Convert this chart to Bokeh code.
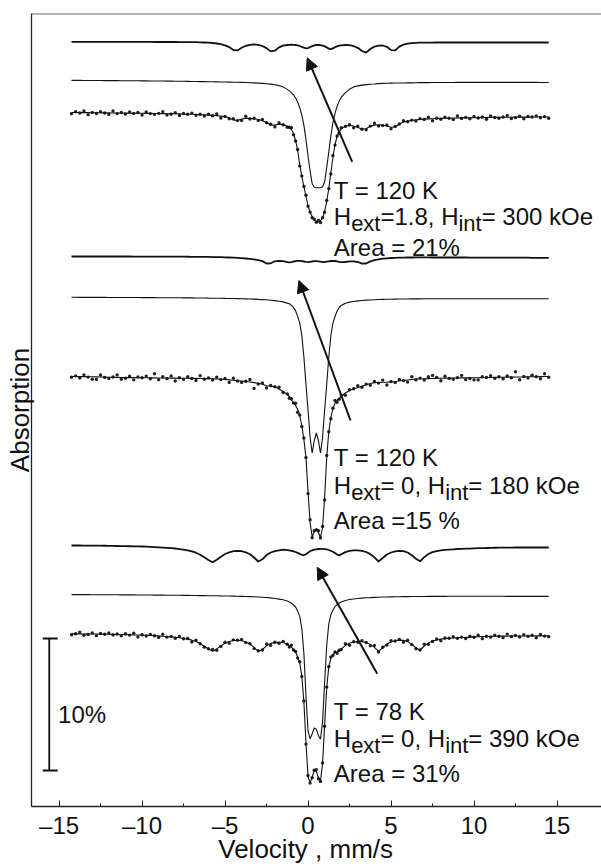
import math
from bokeh.plotting import figure
from bokeh.models import (Range1d, FixedTicker, Label, Arrow, NormalHead, Span,
                          CustomJSTickFormatter)
from bokeh.embed import file_html
from bokeh.resources import INLINE

# ---------------- data (velocity in mm/s; absorption depth in arbitrary units, 132 units = 10 %) ----
VEL = [
    -14.25, -14.0, -13.75, -13.5, -13.25, -13.0, -12.75, -12.5, -12.25, -12.0,
    -11.75, -11.5, -11.25, -11.0, -10.75, -10.5, -10.25, -10.0, -9.75, -9.5,
    -9.25, -9.0, -8.75, -8.5, -8.25, -8.0, -7.75, -7.5, -7.25, -7.0,
    -6.75, -6.5, -6.25, -6.0, -5.75, -5.5, -5.25, -5.0, -4.75, -4.5,
    -4.25, -4.0, -3.75, -3.5, -3.25, -3.0, -2.75, -2.5, -2.25, -2.0,
    -1.75, -1.5, -1.25,
    -1.125, -1.0, -0.875, -0.75, -0.625, -0.5, -0.375, -0.25, -0.125, 0.0,
    0.125, 0.25, 0.375, 0.5, 0.625, 0.75, 0.875, 1.0, 1.125, 1.25,
    1.375, 1.5, 1.625, 1.75, 1.875,
    2.0, 2.25, 2.5, 2.75, 3.0, 3.25, 3.5, 3.75, 4.0, 4.25,
    4.5, 4.75, 5.0, 5.25, 5.5, 5.75, 6.0, 6.25, 6.5, 6.75,
    7.0, 7.25, 7.5, 7.75, 8.0, 8.25, 8.5, 8.75, 9.0, 9.25,
    9.5, 9.75, 10.0, 10.25, 10.5, 10.75, 11.0, 11.25, 11.5, 11.75,
    12.0, 12.25, 12.5, 12.75, 13.0, 13.25, 13.5, 13.75, 14.0, 14.25,
    14.5,
]

# Spectrum 1: T = 120 K, Hext = 1.8
P1_SEXTET = [
    0, 0, 0, 0, 0, 0, 0, 0, 0, 0,
    0, 0, 0.1, 0.1, 0.1, 0.1, 0.1, 0.1, 0.1, 0.1,
    0.2, 0.2, 0.2, 0.2, 0.2, 0.2, 0.3, 0.3, 0.3, 0.3,
    0.4, 0.5, 0.7, 0.9, 1.2, 1.7, 2.4, 3.5, 5.3, 8.2,
    8.6, 6.0, 4.0, 3.0, 2.6, 3.0, 4.2, 6.3, 9.6, 8.9,
    5.6, 3.9, 3.2,
    3.0, 2.9, 3.0, 3.2, 3.6, 4.2, 5.0, 5.9, 6.6, 6.3,
    5.2, 4.3, 3.6, 3.2, 3.1, 3.3, 3.8, 4.6, 5.6, 6.8,
    7.4, 6.6, 5.4, 4.5, 3.9,
    3.5, 3.2, 3.4, 4.3, 6.0, 9.2, 10.8, 7.2, 4.8, 3.8,
    3.7, 5.0, 8.3, 8.6, 4.8, 2.8, 1.8, 1.3, 1.1, 0.9,
    0.8, 0.8, 0.8, 0.7, 0.7, 0.7, 0.7, 0.7, 0.7, 0.7,
    0.7, 0.7, 0.7, 0.7, 0.7, 0.7, 0.7, 0.7, 0.7, 0.7,
    0.7, 0.7, 0.7, 0.7, 0.7, 0.7, 0.7, 0.7, 0.7, 0.7,
    0.7,
]
P1_DOUBLET = [
    0.2, 0.2, 0.2, 0.25, 0.3, 0.3, 0.35, 0.35, 0.4, 0.4,
    0.45, 0.45, 0.5, 0.55, 0.55, 0.6, 0.6, 0.65, 0.7, 0.75,
    0.75, 0.8, 0.85, 0.9, 0.9, 1.0, 1.05, 1.1, 1.15, 1.25,
    1.3, 1.4, 1.45, 1.5, 1.6, 1.65, 1.75, 1.85, 1.95, 2.05,
    2.1, 2.2, 2.35, 2.5, 2.7, 2.9, 3.2, 3.5, 3.95, 4.55,
    5.4, 6.7, 9.2,
    10.7, 12.7, 14.8, 17.6, 21.8, 27.5, 35.0, 45.0, 59.5, 75.8,
    90.8, 103.5, 107.0, 107.6, 107.6, 107.5, 106.6, 101.6, 87.3, 71.9,
    55.7, 42.1, 33.1, 26.1, 20.9,
    17.2, 12.5, 9.0, 6.7, 5.7, 4.9, 4.4, 4.05, 3.8, 3.45,
    3.2, 3.05, 2.95, 2.85, 2.8, 2.75, 2.7, 2.65, 2.5, 2.45,
    2.4, 2.4, 2.35, 2.35, 2.3, 2.25, 2.25, 2.25, 2.2, 2.2,
    2.15, 2.15, 2.15, 2.15, 2.15, 2.15, 2.15, 2.15, 2.15, 2.15,
    2.2, 2.2, 2.2, 2.2, 2.2, 2.2, 2.2, 2.2, 2.25, 2.25,
    2.25,
]
P1_FIT = [
    0, 0.05, 0.1, 0.1, 0.15, 0.2, 0.25, 0.3, 0.35, 0.4,
    0.45, 0.5, 0.55, 0.6, 0.65, 0.7, 0.75, 0.8, 0.85, 0.9,
    1.0, 1.05, 1.1, 1.2, 1.25, 1.3, 1.4, 1.55, 1.7, 1.8,
    2.0, 2.2, 2.4, 2.6, 2.85, 3.1, 3.6, 4.2, 5.4, 7.4,
    8.0, 6.6, 5.8, 5.9, 6.3, 7.0, 8.2, 10.0, 12.5, 12.6,
    11.6, 12.0, 13.8,
    15.0, 17.0, 21.0, 28.0, 38.0, 52.0, 64.0, 74.0, 84.0, 93.0,
    100.0, 104.0, 107.5, 109.3, 109.3, 108.0, 105.5, 99.0, 89.0, 76.0,
    60.0, 45.0, 32.0, 24.0, 19.5,
    16.5, 13.6, 13.0, 13.5, 15.0, 16.5, 16.3, 13.8, 12.6, 12.3,
    12.6, 13.5, 14.7, 14.5, 11.5, 9.5, 8.6, 8.0, 7.4, 7.0,
    6.6, 6.4, 6.2, 6.05, 5.9, 5.8, 5.7, 5.6, 5.5, 5.4,
    5.35, 5.3, 5.2, 5.15, 5.1, 5.0, 4.9, 4.85, 4.8, 4.75,
    4.7, 4.7, 4.65, 4.65, 4.6, 4.6, 4.55, 4.55, 4.5, 4.5,
    4.5,
]
P1_DATA = [
    1.2, -0.85, 0.5, -1.5, 2.15, -0.1, 1.05, -0.8, 0.45, 1.9,
    -1.55, 1.1, 0.05, 1.6, -0.65, 1.0, 0.05, 2.6, -0.55, 1.1,
    1.9, 0.85, -0.7, 2.5, 1.75, 0.3, 3.0, 0.95, 1.7, 0.6,
    2.7, 1.8, 3.6, 1.7, 3.25, 1.5, 5.6, 3.9, 6.2, 6.3,
    8.1, 8.1, 3.8, 6.5, 5.8, 8.0, 6.9, 10.3, 11.8, 14.4,
    10.2, 12.2, 14.7,
    14.8, 15.2, 22.3, 28.5, 37.0, 53.6, 63.4, 74.0, 82.8, 93.7,
    99.6, 105.2, 106.6, 109.7, 107.7, 110.0, 105.2, 99.8, 87.9, 76.1,
    61.5, 43.0, 32.6, 23.5, 20.5,
    15.2, 13.9, 12.3, 15.3, 13.6, 16.7, 17.2, 13.6, 10.8, 13.6,
    13.1, 12.5, 16.3, 13.9, 11.5, 8.3, 9.3, 7.6, 8.6, 6.1,
    7.0, 4.8, 8.2, 5.75, 6.7, 4.7, 5.8, 7.1, 3.5, 6.0,
    4.85, 6.3, 3.9, 5.45, 4.4, 6.8, 3.5, 5.05, 5.7, 4.55,
    2.9, 6.0, 5.15, 3.65, 6.2, 4.0, 4.55, 3.35, 5.2, 4.1,
    5.7,
]

# Spectrum 2: T = 120 K, Hext = 0
P2_SEXTET = [
    0, 0, 0, 0, 0, 0, 0, 0, 0, 0,
    0, 0, 0, 0, 0, 0.1, 0.1, 0.1, 0.1, 0.1,
    0.1, 0.1, 0.1, 0.2, 0.2, 0.2, 0.2, 0.2, 0.25, 0.3,
    0.3, 0.35, 0.4, 0.45, 0.55, 0.6, 0.7, 0.8, 1.0, 1.2,
    1.4, 1.7, 2.0, 2.4, 2.9, 3.6, 4.6, 7.0, 6.8, 4.8,
    4.3, 4.7, 5.6,
    5.9, 5.6, 5.0, 4.6, 4.4, 4.4, 4.6, 5.0, 5.4, 5.6,
    5.3, 5.0, 4.7, 4.6, 4.8, 5.2, 5.5, 5.6, 5.2, 4.8,
    4.5, 4.4, 4.5, 4.8, 5.3,
    5.7, 5.5, 4.9, 4.8, 5.5, 7.2, 7.0, 4.9, 3.7, 2.8,
    2.2, 1.8, 1.5, 1.3, 1.2, 1.1, 1.0, 1.0, 0.95, 0.95,
    0.95, 0.95, 1.0, 1.0, 1.0, 1.0, 1.0, 1.0, 1.0, 1.0,
    1.0, 1.1, 1.1, 1.1, 1.1, 1.1, 1.1, 1.1, 1.1, 1.1,
    1.1, 1.2, 1.2, 1.2, 1.2, 1.2, 1.3, 1.3, 1.3, 1.3,
    1.3,
]
P2_DOUBLET = [
    0.1, 0.1, 0.15, 0.15, 0.15, 0.2, 0.2, 0.2, 0.2, 0.25,
    0.25, 0.3, 0.3, 0.3, 0.35, 0.35, 0.35, 0.4, 0.4, 0.45,
    0.45, 0.5, 0.5, 0.55, 0.55, 0.6, 0.6, 0.65, 0.65, 0.7,
    0.75, 0.8, 0.85, 0.95, 1.0, 1.05, 1.1, 1.2, 1.25, 1.3,
    1.4, 1.55, 1.65, 1.75, 1.9, 2.2, 2.4, 2.6, 3.0, 3.45,
    4.05, 4.65, 5.9,
    6.5, 8.2, 10.3, 13.7, 19.2, 25.7, 38.2, 59.7, 87.2, 112.7,
    140.3, 155.8, 143.3, 135.8, 143.3, 155.8, 140.3, 112.8, 87.3, 59.8,
    38.3, 25.8, 19.3, 13.8, 10.4,
    8.3, 6.05, 4.9, 4.3, 3.7, 3.3, 2.9, 2.75, 2.55, 2.35,
    2.2, 2.1, 2.0, 1.9, 1.85, 1.8, 1.75, 1.7, 1.7, 1.65,
    1.6, 1.55, 1.55, 1.5, 1.5, 1.5, 1.5, 1.5, 1.5, 1.5,
    1.5, 1.5, 1.5, 1.5, 1.5, 1.5, 1.5, 1.5, 1.5, 1.5,
    1.55, 1.55, 1.55, 1.55, 1.55, 1.6, 1.6, 1.6, 1.6, 1.6,
    1.6,
]
P2_FIT = [
    -1.0, -0.95, -0.9, -0.85, -0.8, -0.7, -0.6, -0.5, -0.4, -0.3,
    -0.2, -0.1, 0.0, 0.05, 0.1, 0.15, 0.2, 0.25, 0.3, 0.35,
    0.4, 0.45, 0.5, 0.55, 0.6, 0.65, 0.7, 0.75, 0.8, 0.85,
    0.9, 0.95, 1.0, 1.1, 1.2, 1.4, 1.7, 2.0, 2.4, 2.8,
    3.2, 3.6, 4.0, 4.5, 5.1, 5.8, 6.8, 8.2, 8.8, 9.3,
    11.5, 14.0, 17.0,
    19.0, 22.5, 25.0, 28.0, 32.0, 38.0, 48.0, 62.0, 80.0, 114.0,
    145.0, 159.5, 154.0, 151.0, 155.0, 160.0, 150.0, 120.0, 80.0, 54.0,
    40.0, 31.0, 25.5, 23.0, 21.0,
    19.0, 15.5, 13.0, 11.3, 10.0, 8.8, 7.2, 6.0, 5.3, 5.0,
    4.8, 4.7, 4.4, 4.0, 3.5, 3.0, 2.5, 2.0, 1.6, 1.3,
    1.2, 1.1, 1.0, 0.9, 0.8, 0.7, 0.6, 0.5, 0.45, 0.4,
    0.35, 0.3, 0.3, 0.2, 0.1, 0.05, 0.0, -0.1, -0.2, -0.3,
    -0.35, -0.4, -0.5, -0.55, -0.6, -0.7, -0.75, -0.8, -0.9, -0.95,
    -1.0,
]
P2_DATA = [
    -0.2, -1.65, 0.5, -2.65, -0.4, 1.8, 1.9, -2.5, -0.1, 1.0,
    -0.5, -2.6, 1.8, 0.75, -1.3, 2.35, -0.6, 0.25, -1.4, 1.35,
    -3.7, 2.15, -0.8, 1.15, -1.6, 3.45, 0.3, 1.85, -0.7, 0.95,
    3.0, -1.85, 1.8, 0.4, 2.6, -0.4, 2.1, 1.0, 4.9, 0.8,
    3.5, 4.9, 3.7, 2.0, 10.9, 6.5, 5.4, 10.4, 8.0, 9.3,
    9.8, 15.0, 16.4,
    20.7, 21.2, 25.6, 25.8, 34.8, 37.6, 49.1, 60.5, 80.1, 116.1,
    142.2, 160.3, 153.3, 152.4, 153.2, 160.4, 149.0, 122.5, 78.0, 54.3,
    41.3, 30.7, 23.0, 24.8, 21.7,
    17.6, 17.7, 12.2, 11.3, 8.3, 9.8, 6.6, 7.7, 4.0, 5.6,
    2.6, 7.5, 4.0, 5.1, 2.0, 3.1, 4.6, -0.8, 2.4, 0.6,
    2.6, -0.7, -2.1, -0.1, 3.3, -1.3, 0.9, 1.8, 0.15, -2.1,
    2.15, 1.0, 2.4, 2.4, -0.7, 0.05, -1.7, 0.9, -0.8, 1.4,
    -1.65, 0.2, -5.7, 2.25, -1.0, 0.4, -2.25, -0.7, 1.2, -3.75,
    -0.2,
]

# Spectrum 3: T = 78 K, Hext = 0
P3_SEXTET = [
    0, 0, 0, 0.05, 0.1, 0.1, 0.15, 0.2, 0.25, 0.3,
    0.4, 0.5, 0.6, 0.65, 0.75, 0.85, 0.95, 1.0, 1.2, 1.4,
    1.6, 1.8, 2.1, 2.4, 2.7, 3.0, 3.6, 4.2, 4.9, 5.8,
    7.2, 9.2, 11.8, 14.5, 16.7, 14.3, 11.3, 8.5, 6.8, 5.6,
    5.3, 5.6, 6.8, 8.8, 12.0, 16.0, 13.8, 9.5, 7.0, 5.6,
    4.8, 4.2, 4.7,
    4.95, 5.4, 5.9, 6.5, 7.4, 8.3, 9.3, 9.8, 8.8, 7.3,
    5.8, 4.8, 4.1, 3.8, 3.5, 3.3, 3.4, 3.6, 3.9, 4.5,
    5.3, 6.3, 7.6, 9.0, 9.9,
    8.8, 6.6, 5.4, 4.8, 4.8, 5.4, 6.5, 8.6, 11.8, 16.0,
    12.5, 9.0, 7.0, 5.8, 5.3, 5.7, 7.0, 9.8, 13.3, 15.8,
    11.6, 8.5, 6.7, 5.7, 4.8, 4.4, 4.1, 3.8, 3.5, 3.35,
    3.2, 3.05, 2.8, 2.7, 2.6, 2.5, 2.3, 2.25, 2.2, 2.15,
    2.1, 2.05, 2.0, 2.0, 2.0, 2.0, 2.0, 2.0, 2.0, 2.0,
    2.0,
]
P3_DOUBLET = [
    0.1, 0.1, 0.15, 0.15, 0.15, 0.2, 0.2, 0.25, 0.25, 0.25,
    0.3, 0.3, 0.35, 0.35, 0.4, 0.4, 0.45, 0.5, 0.55, 0.55,
    0.6, 0.65, 0.65, 0.7, 0.75, 0.75, 0.8, 0.85, 0.9, 1.0,
    1.05, 1.1, 1.15, 1.2, 1.25, 1.3, 1.4, 1.45, 1.55, 1.65,
    1.75, 1.85, 1.95, 2.1, 2.3, 2.5, 2.75, 3.05, 3.35, 3.95,
    4.6, 5.3, 6.5,
    7.5, 8.7, 10.5, 12.5, 16.6, 21.9, 33.9, 58.9, 100.6, 136.7,
    144.2, 139.2, 133.5, 134.7, 141.1, 144.7, 127.6, 88.2, 51.0, 29.4,
    20.2, 15.6, 11.9, 10.2, 8.5,
    7.5, 6.0, 5.05, 4.45, 4.0, 3.6, 3.25, 3.1, 2.9, 2.75,
    2.55, 2.5, 2.4, 2.3, 2.2, 2.15, 2.1, 2.05, 2.0, 1.95,
    1.95, 1.9, 1.9, 1.9, 1.9, 1.85, 1.8, 1.8, 1.8, 1.8,
    1.8, 1.8, 1.8, 1.8, 1.8, 1.8, 1.8, 1.8, 1.8, 1.8,
    1.85, 1.85, 1.85, 1.85, 1.85, 1.9, 1.9, 1.9, 1.9, 1.9,
    1.9,
]
P3_FIT = [
    0.1, 0.1, 0.1, 0.15, 0.2, 0.2, 0.25, 0.3, 0.4, 0.45,
    0.55, 0.65, 0.75, 0.8, 0.9, 1.05, 1.15, 1.25, 1.45, 1.65,
    1.9, 2.1, 2.4, 2.75, 3.05, 3.4, 4.0, 4.65, 5.35, 6.35,
    7.8, 9.8, 12.45, 15.2, 17.4, 15.1, 12.1, 9.4, 7.75, 6.65,
    6.4, 6.8, 8.1, 10.25, 13.6, 17.8, 15.85, 11.8, 9.6, 8.8,
    8.6, 8.7, 10.4,
    11.65, 13.3, 15.6, 18.2, 23.2, 29.3, 42.3, 67.8, 108.5, 143.1,
    149.1, 143.1, 136.7, 137.6, 143.7, 147.1, 130.1, 90.8, 53.9, 32.9,
    24.5, 20.9, 18.5, 18.2, 17.4,
    15.3, 11.6, 9.4, 8.2, 7.7, 7.9, 8.65, 10.55, 13.55, 17.6,
    13.9, 10.3, 8.2, 6.9, 6.3, 6.6, 7.85, 10.6, 14.0, 16.45,
    12.2, 9.1, 7.25, 6.2, 5.3, 4.85, 4.5, 4.2, 3.85, 3.7,
    3.55, 3.35, 3.1, 3.0, 2.85, 2.75, 2.55, 2.45, 2.4, 2.35,
    2.3, 2.25, 2.15, 2.15, 2.15, 2.15, 2.15, 2.1, 2.1, 2.1,
    2.1,
]
P3_DATA = [
    1.0, -0.1, -1.7, 1.45, 0.7, -0.8, 1.85, -0.3, 0.4, -0.75,
    1.25, 0.25, 1.95, -0.1, 1.3, -0.55, 3.15, 0.95, 2.25, 0.55,
    2.0, 3.6, 0.4, 3.35, 2.55, 4.4, 2.7, 4.95, 4.65, 8.15,
    6.4, 10.0, 13.35, 15.0, 15.6, 16.4, 12.6, 8.4, 9.35, 6.05,
    6.4, 5.6, 8.8, 9.85, 14.8, 16.9, 16.25, 10.2, 11.6, 8.5,
    9.4, 7.6, 10.5,
    13.15, 11.3, 16.2, 17.7, 24.2, 28.0, 42.6, 67.1, 110.3, 141.7,
    149.3, 144.0, 136.5, 135.8, 145.0, 147.6, 129.1, 92.4, 53.3, 32.9,
    23.3, 21.6, 18.1, 19.4, 16.5,
    15.7, 10.0, 11.4, 7.9, 8.5, 6.8, 8.75, 12.05, 11.55, 18.2,
    13.4, 11.3, 6.9, 7.2, 5.6, 8.4, 6.45, 10.8, 14.9, 16.25,
    10.4, 10.4, 7.75, 5.2, 6.9, 4.25, 4.5, 3.0, 4.55, 3.3,
    4.75, 2.45, 3.5, 1.4, 4.85, 2.45, 3.35, 1.35, 2.5, 3.85,
    0.3, 2.85, 1.65, 3.15, 0.85, 2.45, 1.45, 3.9, 0.7, 2.3,
    3.0,
]

X_TICKS = [-15, -10, -5, 0, 5, 10, 15]
X_MINOR = [-12.5, -7.5, -2.5, 2.5, 7.5, 12.5]
UNITS_PER_PERCENT = 13.2
SCALE_BAR_PERCENT = 10

ANNOT = [
    # T line, Hext value (+ following H), Hint value, Area line
    ("T = 120 K", "=1.8, H", "= 300 kOe", "Area = 21%"),
    ("T = 120 K", "= 0, H", "= 180 kOe", "Area =15 %"),
    ("T = 78 K", "= 0, H", "= 390 kOe", "Area = 31%"),
]

for arr in (P1_SEXTET, P1_DOUBLET, P1_FIT, P1_DATA, P2_SEXTET, P2_DOUBLET, P2_FIT,
            P2_DATA, P3_SEXTET, P3_DOUBLET, P3_FIT, P3_DATA):
    assert len(arr) == len(VEL), len(arr)

# ---------------- layout / style ----------------
FONT = "Liberation Sans"
INK = "#111111"
X_START, X_END = -16.66, 17.68

p = figure(width=601, height=867, output_backend="svg", toolbar_location=None,
           tools="",
           x_range=Range1d(X_START, X_END), y_range=Range1d(-793, 0),
           min_border_left=31, min_border_right=0, min_border_top=13,
           min_border_bottom=61)
p.outline_line_color = None
p.grid.visible = False
p.background_fill_color = "white"
p.border_fill_color = "white"

ax = p.xaxis[0]
ax.ticker = FixedTicker(ticks=X_TICKS, minor_ticks=X_MINOR)
ax.formatter = CustomJSTickFormatter(
    code="return tick < 0 ? '\\u2013' + Math.abs(tick) : String(tick);")
ax.major_tick_in = 6
ax.major_tick_out = 0
ax.minor_tick_in = 3
ax.minor_tick_out = 0
ax.major_label_standoff = 5
ax.major_label_text_font = FONT
ax.major_label_text_font_size = "24px"
ax.major_label_text_color = INK
ax.axis_line_color = "#222222"
ax.axis_line_width = 1.3
ax.major_tick_line_color = "#222222"
ax.minor_tick_line_color = "#222222"
ax.axis_label = "Velocity , mm/s" + "\u00a0" * 3
ax.axis_label_text_font = FONT
ax.axis_label_text_font_size = "26px"
ax.axis_label_text_font_style = "normal"
ax.axis_label_text_color = INK
ax.axis_label_standoff = -8

ay = p.yaxis[0]
ay.ticker = FixedTicker(ticks=[])
ay.major_label_text_font_size = "0px"
ay.major_tick_in = 0
ay.major_tick_out = 0
ay.minor_tick_in = 0
ay.minor_tick_out = 0
ay.major_label_standoff = 0
ay.axis_line_color = "#222222"
ay.axis_line_width = 1.3
ay.axis_label = "Absorption"
ay.axis_label_text_font = FONT
ay.axis_label_text_font_size = "26px"
ay.axis_label_text_font_style = "normal"
ay.axis_label_text_color = INK
ay.axis_label_standoff = -3

OFFSETS = {
    "p1": {"sextet": -28.3, "doublet": -66.7, "data": -99.0},
    "p2": {"sextet": -243.0, "doublet": -283.7, "data": -364.0},
    "p3": {"sextet": -532.0, "doublet": -581.0, "data": -620.3},
}
SPECTRA = {
    "p1": (P1_SEXTET, P1_DOUBLET, P1_FIT, P1_DATA),
    "p2": (P2_SEXTET, P2_DOUBLET, P2_FIT, P2_DATA),
    "p3": (P3_SEXTET, P3_DOUBLET, P3_FIT, P3_DATA),
}

for key, (sext, doub, fit, data) in SPECTRA.items():
    off = OFFSETS[key]
    p.line(VEL, [off["sextet"] - v for v in sext], line_color=INK, line_width=1.8)
    p.line(VEL, [off["doublet"] - v for v in doub], line_color=INK, line_width=1.1)
    p.scatter(VEL, [off["data"] - v for v in data], size=3.4, marker="circle",
              fill_color="#222222", line_color=None)
    p.line(VEL, [off["data"] - v for v in fit], line_color=INK, line_width=1.1)

# top border of the frame
p.add_layout(Span(location=0, dimension="width", line_color="#666666", line_width=2))

# arrows (tail -> head), in data coordinates
ARROWS = [((2.66, -148.3), (-0.05, -44.3)),
          ((2.56, -407.0), (-0.55, -267.0)),
          ((4.17, -660.3), (0.55, -553.7))]
for (xs, ys), (xe, ye) in ARROWS:
    p.add_layout(Arrow(end=NormalHead(size=12, line_color=INK, fill_color=INK, line_width=1),
                       x_start=xs, y_start=ys, x_end=xe, y_end=ye,
                       line_color=INK, line_width=2))

# scale bar: 10 %
bar_x = -15.59
bar_top = -625.0
bar_bot = bar_top - SCALE_BAR_PERCENT * UNITS_PER_PERCENT
p.segment(x0=[bar_x, -15.98, -15.98], y0=[bar_top, bar_top, bar_bot],
          x1=[bar_x, -15.08, -15.08], y1=[bar_bot, bar_top, bar_bot],
          line_color=INK, line_width=1.8)
p.add_layout(Label(x=-15.06, y=-700.6, text="%d%%" % SCALE_BAR_PERCENT, text_font=FONT,
                   text_font_size="24px", text_color=INK, text_baseline="alphabetic"))

# annotations
ANN_X = 1.554
ANN_Y = [(-176.6, -202.6, -233.6), (-443.6, -472.3, -507.3), (-697.6, -725.1, -759.6)]
W_H, W_EXT, W_INT = 17.3, 29.3, 23.2


def lab(text, y, xoff=0.0, size="24px"):
    p.add_layout(Label(x=ANN_X, y=y, x_offset=xoff, text=text, text_font=FONT,
                       text_font_size=size, text_color=INK,
                       text_baseline="alphabetic"))


for (t_line, mid, tail, area), (yt, yh, ya) in zip(ANNOT, ANN_Y):
    mid_w = 78.0 if mid.startswith("=1") else 64.7
    lab(t_line, yt)
    lab("H", yh)
    lab("ext", yh - 7, W_H, "22px")
    lab(mid, yh, W_H + W_EXT)
    lab("int", yh - 7, W_H + W_EXT + mid_w, "22px")
    lab(tail, yh, W_H + W_EXT + mid_w + W_INT)
    lab(area, ya)

html = file_html(p, INLINE)
# keep the page from showing a scrollbar over the plot's right edge
html = html.replace("</head>", "<style>html, body { overflow: hidden; }</style></head>", 1)
open("out.html", "w", encoding="utf-8").write(html)
